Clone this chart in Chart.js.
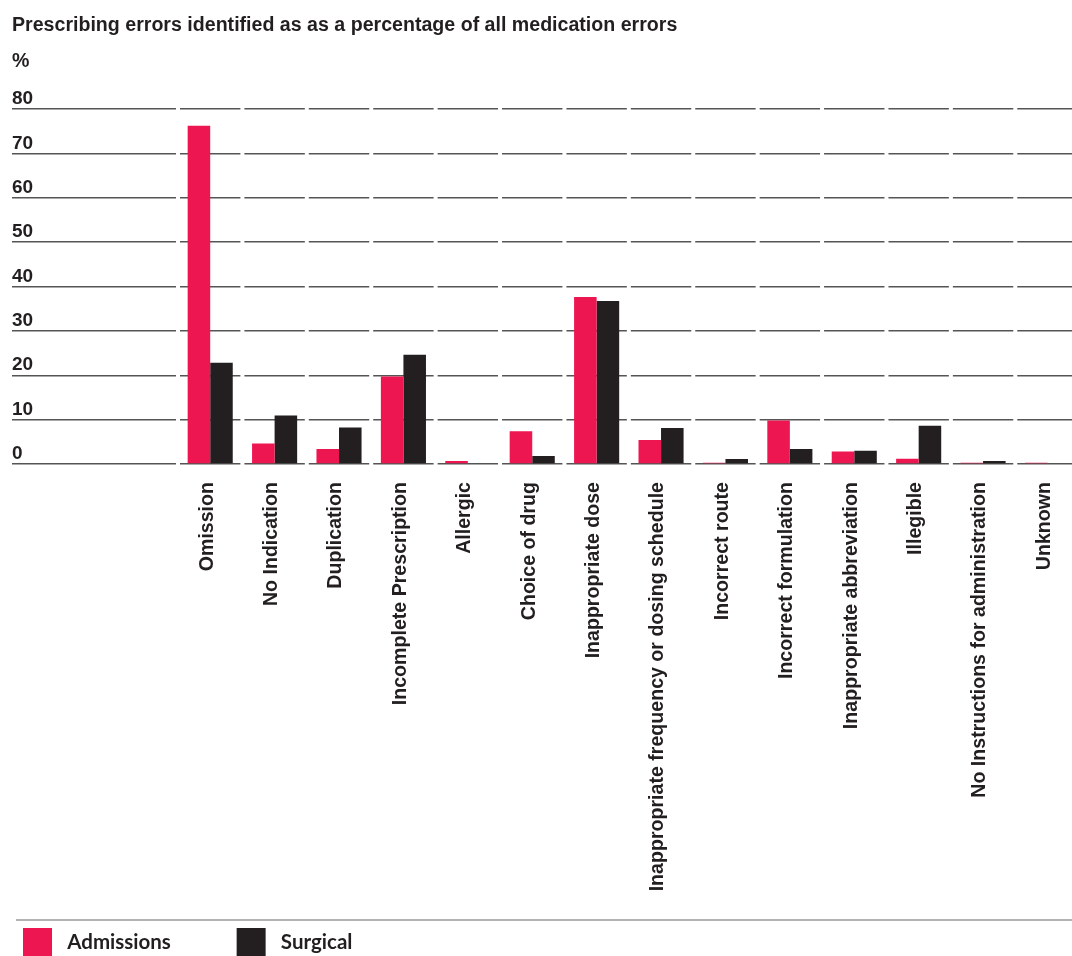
<!DOCTYPE html>
<html>
<head>
<meta charset="utf-8">
<script src="https://cdn.jsdelivr.net/npm/chart.js@4"></script>
<style>
  html, body { margin: 0; padding: 0; overflow: hidden; background: #fff; }
  #wrap { width: 1072px; height: 956px; overflow: hidden; position: relative; }
  canvas { display: block; }
</style>
</head>
<body>
<div id="wrap"><canvas id="c" width="1081" height="966"></canvas></div>
<script>
const categories = [
  'Omission', 'No Indication', 'Duplication', 'Incomplete Prescription', 'Allergic',
  'Choice of drug', 'Inappropriate dose', 'Inappropriate frequency or dosing schedule',
  'Incorrect route', 'Incorrect formulation', 'Inappropriate abbreviation', 'Illegible',
  'No Instructions for administration', 'Unknown'
];
const admissions = [76.2, 4.6, 3.4, 19.7, 0.7, 7.4, 37.6, 5.4, 0.3, 9.8, 2.8, 1.2, 0.3, 0.3];
const surgical   = [22.8, 10.9, 8.2, 24.6, 0, 1.8, 36.7, 8.1, 1.1, 3.4, 3.0, 8.6, 0.7, 0];
const yTicks = [0, 10, 20, 30, 40, 50, 60, 70, 80];
const titleText = 'Prescribing errors identified as as a percentage of all medication errors';
const unitText = '%';

const PINK = '#ED1651';
const DARK = '#231F20';
const FONT = "'Liberation Sans', Arial, Helvetica, sans-serif";
const LEGEND_FONT = "Lato, 'Open Sans', sans-serif";
const LEGEND_SIZE = 20.5;

const segmentGaps = {
  id: 'segmentGaps',
  beforeDatasetsDraw(chart) {
    const x = chart.scales.x, ca = chart.chartArea, ctx = chart.ctx;
    const n = categories.length;
    const bounds = [ca.left, ca.right];
    for (let i = 0; i < n - 1; i++) {
      bounds.push((x.getPixelForValue(i) + x.getPixelForValue(i + 1)) / 2);
    }
    ctx.save();
    ctx.fillStyle = '#ffffff';
    bounds.forEach(b => ctx.fillRect(b - 2, ca.top - 3, 4, ca.bottom - ca.top + 6));
    ctx.restore();
  }
};

const legendRule = {
  id: 'legendRule',
  afterDraw(chart) {
    const lg = chart.legend, ctx = chart.ctx;
    const y = lg.top + 3;
    ctx.save();
    ctx.strokeStyle = '#9a9a9a';
    ctx.lineWidth = 1.5;
    ctx.beginPath();
    ctx.moveTo(16, y);
    ctx.lineTo(chart.width, y);
    ctx.stroke();
    ctx.restore();
  }
};

function padSpaces(ctx, px) {
  const sw = ctx.measureText(' ').width || 5;
  return ' '.repeat(Math.max(0, Math.round(px / sw)));
}

new Chart(document.getElementById('c'), {
  type: 'bar',
  data: {
    labels: categories,
    datasets: [
      { label: 'Admissions', data: admissions, backgroundColor: PINK, borderWidth: 0,
        categoryPercentage: 0.7, barPercentage: 1.0 },
      { label: 'Surgical', data: surgical, backgroundColor: DARK, borderWidth: 0,
        categoryPercentage: 0.7, barPercentage: 1.0 }
    ]
  },
  plugins: [segmentGaps, legendRule],
  options: {
    responsive: false,
    animation: false,
    layout: { padding: { left: 12, right: 0, top: 0, bottom: 0 } },
    plugins: {
      tooltip: { enabled: false },
      title: {
        display: true, text: titleText, align: 'start', color: DARK,
        font: { family: FONT, size: 19.6, weight: 'bold', lineHeight: 1.2 },
        padding: { top: 14.2, bottom: 6 }
      },
      subtitle: {
        display: true, text: unitText, align: 'start', color: DARK,
        font: { family: FONT, size: 19.6, weight: 'bold', lineHeight: 1.2 },
        padding: { top: 6.5, bottom: 35.2 }
      },
      legend: {
        display: true, position: 'bottom', align: 'start',
        labels: {
          boxWidth: 29, boxHeight: 28, padding: 11, color: DARK,
          font: { family: LEGEND_FONT, size: LEGEND_SIZE, weight: 'bold' },
          generateLabels(chart) {
            const items = Chart.defaults.plugins.legend.labels.generateLabels(chart);
            const ctx = chart.ctx;
            ctx.save();
            ctx.font = 'bold ' + LEGEND_SIZE + 'px ' + LEGEND_FONT;
            const lead = padSpaces(ctx, 7);
            const leadW = ctx.measureText(lead).width;
            const firstW = ctx.measureText(items[0].text).width;
            const trail = padSpaces(ctx, 163 - leadW - firstW);
            ctx.restore();
            items.forEach((it, i) => {
              it.text = lead + it.text + (i === 0 ? trail : '');
              it.lineWidth = 0;
            });
            return items;
          }
        }
      }
    },
    scales: {
      x: {
        offset: true,
        grid: { display: false },
        border: { display: false },
        ticks: {
          autoSkip: false, minRotation: 90, maxRotation: 90, padding: 10, labelOffset: -3,
          color: DARK, font: { family: FONT, size: 19.6, weight: 'bold' }
        },
        afterFit(scale) { scale.height = 453; }
      },
      y: {
        min: 0, max: 80,
        afterBuildTicks(scale) { scale.ticks = yTicks.map(v => ({ value: v })); },
        grid: { color: '#555555', lineWidth: 1.4, drawTicks: true, tickLength: 166 },
        border: { display: false },
        ticks: {
          crossAlign: 'far', padding: 0, labelOffset: -10, color: DARK,
          font: { family: FONT, size: 19, weight: 'bold' }
        },
        afterFit(scale) { scale.width = 166; }
      }
    }
  }
});
</script>
</body>
</html>
